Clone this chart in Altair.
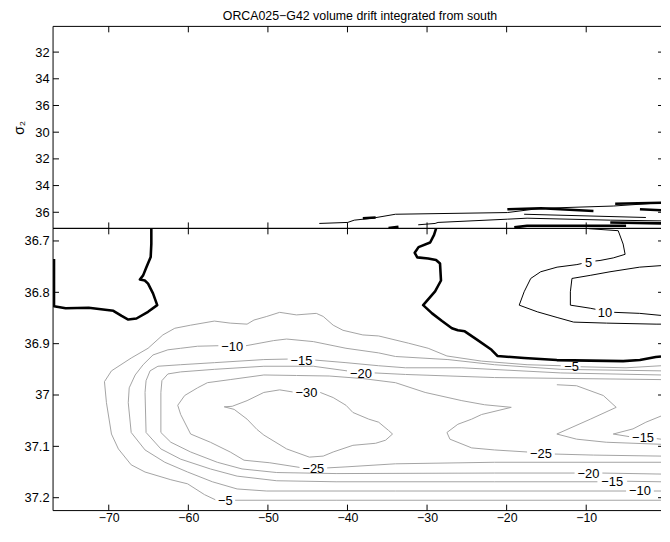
import json
import altair as alt
import pandas as pd

TITLE = "ORCA025\u2212G42 volume drift integrated from south"
FONT = "Liberation Sans"

# the picture is cropped a little before lon = 0
X_DOMAIN = [-77.0, -0.6]
X_TICKS = [-70, -60, -50, -40, -30, -20, -10]

TOP_Y_DOMAIN = [0.037, 7.604]
TOP_Y_TICKS = [1, 2, 3, 4, 5, 6, 7]
TOP_Y_LABELS = ["32", "34", "36", "30", "32", "34", "36"]

BOT_Y_DOMAIN = [36.6755, 37.2251]
BOT_Y_TICKS = [36.7, 36.8, 36.9, 37.0, 37.1, 37.2]

# ---------------- bottom panel contours (lon, sigma2) ----------------
ZERO_A_LON = [-76.88, -76.88, -75.42, -72.52, -69.42, -68.38, -67.55, -66.52, -65.06, -63.91,
              -64.44, -65.06, -65.47, -66.09, -65.68, -65.27, -64.73, -64.65, -64.65]
ZERO_A_SIG = [36.735, 36.827, 36.831, 36.830, 36.836, 36.846, 36.853, 36.851, 36.838, 36.825,
              36.802, 36.783, 36.777, 36.775, 36.767, 36.751, 36.731, 36.706, 36.676]

ZERO_B_LON = [-28.87, -29.12, -29.61, -31.07, -31.55, -31.23, -29.86, -28.87, -28.37, -28.25,
              -28.99, -30.49, -29.37, -28.12, -26.88, -26.13, -25.26, -23.64, -21.90, -21.16,
              -17.80, -13.69, -5.36, -3.25, -1.26, -0.6]
ZERO_B_SIG = [36.676, 36.688, 36.703, 36.712, 36.723, 36.732, 36.734, 36.737, 36.744, 36.777,
              36.798, 36.825, 36.841, 36.856, 36.870, 36.874, 36.876, 36.893, 36.912, 36.924,
              36.928, 36.932, 36.934, 36.932, 36.926, 36.925]

POS5_A_LON = [-9.71, -5.98, -5.36, -5.11, -6.60, -8.26, -8.84]
POS5_A_SIG = [36.676, 36.680, 36.706, 36.726, 36.733, 36.738, 36.739]
POS5_B_LON = [-10.58, -11.17, -13.66, -15.72, -16.97, -17.80, -18.42, -16.14, -13.66, -11.58,
              -7.44, -1.22, -0.6]
POS5_B_SIG = [36.744, 36.746, 36.751, 36.760, 36.773, 36.799, 36.825, 36.838, 36.849, 36.858,
              36.860, 36.862, 36.862]

POS10_A_LON = [-0.6, -3.28, -7.01, -9.50, -11.79, -11.99, -11.99, -9.50, -8.84]
POS10_A_SIG = [36.748, 36.751, 36.760, 36.767, 36.773, 36.799, 36.825, 36.831, 36.833]
POS10_B_LON = [-6.48, -3.28, -0.6]
POS10_B_SIG = [36.839, 36.841, 36.845]

NEG5_A_LON = [-0.6, -4.99, -10.71]
NEG5_A_SIG = [36.943, 36.947, 36.945]
NEG5_B_LON = [-13.20, -17.43, -23.15, -27.50, -29.86, -32.35, -36.08, -38.07, -40.56, -41.80,
              -43.05, -43.92, -46.41, -48.52, -50.14, -51.75, -52.62, -54.74, -56.73, -59.71,
              -61.70, -63.20, -65.06, -67.18, -69.66, -70.54, -70.29, -69.66, -68.79, -67.18,
              -65.44, -62.20, -60.09, -57.97, -56.61]
NEG5_B_SIG = [36.943, 36.941, 36.934, 36.924, 36.909, 36.899, 36.885, 36.883, 36.874, 36.864,
              36.847, 36.841, 36.844, 36.839, 36.847, 36.854, 36.862, 36.860, 36.856, 36.864,
              36.870, 36.883, 36.909, 36.928, 36.953, 36.974, 37.015, 37.076, 37.105, 37.136,
              37.150, 37.165, 37.173, 37.194, 37.204]
NEG5_C_LON = [-54.11, -41.43, -0.6]
NEG5_C_SIG = [37.205, 37.205, 37.205]

NEG10_A_LON = [-0.6, -13.20, -21.53, -27.38, -33.97, -36.08, -40.19, -44.29, -47.65, -49.27, -52.75]
NEG10_A_SIG = [36.953, 36.950, 36.941, 36.931, 36.925, 36.918, 36.909, 36.896, 36.891, 36.894, 36.904]
NEG10_B_LON = [-56.23, -58.84, -60.96, -62.57, -64.44, -65.68, -66.68, -67.43, -67.55, -67.18,
               -65.44, -62.95, -60.09, -56.98, -53.87, -50.14, -33.97, -4.99]
NEG10_B_SIG = [36.904, 36.905, 36.909, 36.912, 36.922, 36.941, 36.961, 36.986, 37.015, 37.073,
               37.107, 37.131, 37.150, 37.169, 37.183, 37.187, 37.187, 37.187]
NEG10_C_LON = [-1.50, -0.6]
NEG10_C_SIG = [37.187, 37.187]

NEG15_A_LON = [-0.6, -13.20, -25.63, -32.72, -36.08, -40.19, -44.04]
NEG15_A_SIG = [36.961, 36.957, 36.947, 36.947, 36.943, 36.937, 36.932]
NEG15_B_LON = [-47.52, -50.51, -56.73, -60.96, -63.82, -64.81, -65.31, -65.44, -65.31, -63.45,
               -60.96, -57.23, -53.87, -48.89, -41.43, -21.53, -8.59]
NEG15_B_SIG = [36.930, 36.931, 36.937, 36.941, 36.944, 36.953, 36.972, 36.995, 37.073, 37.105,
               37.125, 37.144, 37.158, 37.167, 37.169, 37.169, 37.169]
NEG15_C_LON = [-4.86, -0.6]
NEG15_C_SIG = [37.168, 37.169]

NEG15_T_A_LON = [-0.6, -2.50, -4.12, -6.60, -4.61]
NEG15_T_A_SIG = [37.041, 37.053, 37.066, 37.076, 37.081]
NEG15_T_B_LON = [-1.13, -0.6]
NEG15_T_B_SIG = [37.085, 37.086]

NEG20_A_LON = [-0.6, -21.53, -32.72, -36.58]
NEG20_A_SIG = [36.970, 36.966, 36.960, 36.957]
NEG20_B_LON = [-40.06, -44.29, -50.51, -56.73, -60.96, -62.57, -63.32, -63.45, -63.45, -62.20,
               -59.71, -56.36, -53.25, -48.89, -41.43, -21.53, -11.46]
NEG20_B_SIG = [36.953, 36.944, 36.944, 36.950, 36.955, 36.959, 36.972, 36.995, 37.073, 37.092,
               37.111, 37.131, 37.144, 37.151, 37.153, 37.152, 37.152]
NEG20_C_LON = [-7.97, -0.6]
NEG20_C_SIG = [37.152, 37.154]

NEG20_T_LON = [-13.69, -11.21, -7.85, -6.23, -9.47, -13.69, -11.21, -7.48, -0.6]
NEG20_T_SIG = [36.980, 36.982, 37.001, 37.024, 37.047, 37.076, 37.086, 37.092, 37.096]

NEG25_A_LON = [-0.6, -9.09, -13.94]
NEG25_A_SIG = [37.119, 37.117, 37.115]
NEG25_B_LON = [-17.43, -21.53, -24.39, -27.13, -27.50, -26.13, -24.39, -23.15, -19.42, -22.77,
               -25.63, -30.24, -33.97, -38.07, -42.30, -46.41, -50.51, -54.74, -57.60, -58.84,
               -60.46, -61.33, -60.96, -59.71, -57.23, -54.74, -53.00, -49.76, -46.03]
NEG25_B_SIG = [37.111, 37.107, 37.103, 37.086, 37.073, 37.057, 37.047, 37.038, 37.024, 37.019,
               37.011, 36.995, 36.976, 36.968, 36.963, 36.962, 36.961, 36.970, 36.976, 36.986,
               37.001, 37.020, 37.038, 37.076, 37.092, 37.111, 37.127, 37.132, 37.141]
NEG25_C_LON = [-42.55, -40.19, -33.97, -21.53, -0.6]
NEG25_C_SIG = [37.142, 37.140, 37.134, 37.131, 37.131]

NEG30_LON = [-43.42, -41.80, -40.19, -39.32, -37.33, -36.08, -34.84, -34.34, -35.21, -36.46,
             -39.32, -41.80, -43.05, -44.79, -47.65, -50.51, -51.38, -52.62, -54.24, -55.49,
             -54.49, -52.62, -50.51, -48.52, -46.90]
NEG30_SIG = [36.995, 37.005, 37.020, 37.034, 37.047, 37.053, 37.069, 37.076, 37.088, 37.094,
             37.098, 37.111, 37.119, 37.121, 37.105, 37.078, 37.067, 37.047, 37.028, 37.023,
             37.022, 37.011, 36.995, 36.990, 36.994]

LABEL_TEXT = ["5", "10", "\u22125", "\u221210", "\u221215", "\u221220", "\u221230", "\u221225",
              "\u221225", "\u221215", "\u221220", "\u221215", "\u221210", "\u22125"]
LABEL_LON = [-9.71, -7.64, -11.83, -54.49, -45.78, -38.31, -45.16, -44.29,
             -15.68, -2.86, -9.71, -6.73, -3.25, -55.36]
LABEL_SIG = [36.741, 36.838, 36.944, 36.905, 36.932, 36.957, 36.995, 37.142,
             37.113, 37.082, 37.152, 37.167, 37.186, 37.205]

# ---------------- top panel contours (lon, stretched sigma2 index) ----------------
TOP_T1_LON = [-43.54, -39.98, -39.15, -36.87, -33.97, -19.91, -15.72, -6.60, -0.6]
TOP_T1_Y = [7.419, 7.381, 7.296, 7.222, 7.074, 7.011, 6.852, 6.767, 6.645]
TOP_T2_LON = [-31.11, -28.99, -28.62, -19.91, -17.43, -6.98, -0.6]
TOP_T2_Y = [7.470, 7.419, 7.381, 7.259, 7.222, 7.296, 7.322]
TOP_T3_LON = [-17.80, -2.50]
TOP_T3_Y = [7.074, 7.196]
TOP_K1_LON = [-19.91, -15.68, -9.09]
TOP_K1_Y = [6.889, 6.852, 6.952]
TOP_K2_LON = [-6.36, -0.6]
TOP_K2_Y = [6.678, 6.645]
TOP_K3_LON = [-3.25, -0.6]
TOP_K3_Y = [6.889, 6.922]
TOP_K4_LON = [-6.98, -0.6]
TOP_K4_Y = [7.381, 7.415]
TOP_K5_LON = [-19.04, -17.43, -4.99]
TOP_K5_Y = [7.567, 7.507, 7.507]
TOP_K6_LON = [-34.84, -33.59]
TOP_K6_Y = [7.593, 7.544]
TOP_K7_LON = [-38.07, -36.46]
TOP_K7_Y = [7.222, 7.196]

BOT_SEGMENTS = [
    ("zA", "zero", ZERO_A_LON, ZERO_A_SIG), ("zB", "zero", ZERO_B_LON, ZERO_B_SIG),
    ("p5a", "pos", POS5_A_LON, POS5_A_SIG), ("p5b", "pos", POS5_B_LON, POS5_B_SIG),
    ("p10a", "pos", POS10_A_LON, POS10_A_SIG), ("p10b", "pos", POS10_B_LON, POS10_B_SIG),
    ("n5a", "neg", NEG5_A_LON, NEG5_A_SIG), ("n5b", "neg", NEG5_B_LON, NEG5_B_SIG),
    ("n5c", "neg", NEG5_C_LON, NEG5_C_SIG),
    ("n10a", "neg", NEG10_A_LON, NEG10_A_SIG), ("n10b", "neg", NEG10_B_LON, NEG10_B_SIG),
    ("n10c", "neg", NEG10_C_LON, NEG10_C_SIG),
    ("n15a", "neg", NEG15_A_LON, NEG15_A_SIG), ("n15b", "neg", NEG15_B_LON, NEG15_B_SIG),
    ("n15c", "neg", NEG15_C_LON, NEG15_C_SIG),
    ("n15ta", "neg", NEG15_T_A_LON, NEG15_T_A_SIG), ("n15tb", "neg", NEG15_T_B_LON, NEG15_T_B_SIG),
    ("n20a", "neg", NEG20_A_LON, NEG20_A_SIG), ("n20b", "neg", NEG20_B_LON, NEG20_B_SIG),
    ("n20c", "neg", NEG20_C_LON, NEG20_C_SIG), ("n20t", "neg", NEG20_T_LON, NEG20_T_SIG),
    ("n25a", "neg", NEG25_A_LON, NEG25_A_SIG), ("n25b", "neg", NEG25_B_LON, NEG25_B_SIG),
    ("n25c", "neg", NEG25_C_LON, NEG25_C_SIG),
    ("n30", "neg", NEG30_LON, NEG30_SIG),
]
TOP_SEGMENTS = [
    ("t1", "pos", TOP_T1_LON, TOP_T1_Y), ("t2", "pos", TOP_T2_LON, TOP_T2_Y),
    ("t3", "pos", TOP_T3_LON, TOP_T3_Y),
    ("k1", "zero", TOP_K1_LON, TOP_K1_Y), ("k2", "zero", TOP_K2_LON, TOP_K2_Y),
    ("k3", "zero", TOP_K3_LON, TOP_K3_Y), ("k4", "zero", TOP_K4_LON, TOP_K4_Y),
    ("k5", "zero", TOP_K5_LON, TOP_K5_Y), ("k6", "zero", TOP_K6_LON, TOP_K6_Y),
    ("k7", "zero", TOP_K7_LON, TOP_K7_Y),
]

STYLE_COLOR = {"zero": "black", "pos": "black", "neg": "#a3a3a3"}
STYLE_WIDTH = {"zero": 2.6, "pos": 1.0, "neg": 1.0}

W = 614
H_TOP = 204
H_BOT = 285
TICK = 6


def seg_frame(segments):
    rows = []
    for name, style, lons, ys in segments:
        for k, (a, b) in enumerate(zip(lons, ys)):
            rows.append({"seg": name, "style": style, "k": k, "lon": a, "y": b})
    return pd.DataFrame(rows)


x_scale = alt.Scale(domain=X_DOMAIN, nice=False, zero=False)
X_TOP = alt.X("lon:Q", scale=x_scale, axis=None)
X_BOT = alt.X("lon:Q", scale=x_scale,
              axis=alt.Axis(values=X_TICKS, ticks=False, domain=False, grid=False,
                            labelPadding=1, labelFontSize=12.5, title=None, labelFlush=False))

Y_TOP = alt.Y("y:Q",
              scale=alt.Scale(domain=TOP_Y_DOMAIN, reverse=True, nice=False, zero=False),
              axis=alt.Axis(values=TOP_Y_TICKS, ticks=False, domain=False, grid=False,
                            labelExpr=json.dumps(TOP_Y_LABELS) + "[round(datum.value) - 1]",
                            labelPadding=4, minExtent=30, maxExtent=30,
                            title="\u03c3\u2082", titlePadding=0, titleBaseline="alphabetic",
                            titleFontSize=14))
Y_BOT = alt.Y("y:Q",
              scale=alt.Scale(domain=BOT_Y_DOMAIN, reverse=True, nice=False, zero=False),
              axis=alt.Axis(values=BOT_Y_TICKS, ticks=False, domain=False, grid=False,
                            format="~g", labelPadding=4, minExtent=30, maxExtent=30,
                            title=None))

ONE = pd.DataFrame({"a": [0]})


def panel(segments, y_enc, y_ticks, height, x_enc, labels=None):
    df = seg_frame(segments)
    layers = []
    for style in ["neg", "pos", "zero"]:
        sub = df[df["style"] == style]
        if len(sub):
            layers.append(
                alt.Chart(sub).mark_line(color=STYLE_COLOR[style], strokeWidth=STYLE_WIDTH[style],
                                         clip=True, strokeJoin="round")
                .encode(x=x_enc, y=y_enc, detail="seg:N", order="k:Q"))
    if labels is not None:
        layers.append(
            alt.Chart(labels).mark_text(font=FONT, fontSize=13, color="black",
                                        align="center", baseline="middle", dy=1, clip=True)
            .encode(x=x_enc, y=y_enc, text="txt:N"))
    xt = pd.DataFrame({"lon": X_TICKS})
    yt = pd.DataFrame({"y": y_ticks})
    rule = dict(color="black", strokeWidth=1)
    # frame (left, top, bottom); the right edge of the figure lies beyond the picture
    layers.append(alt.Chart(ONE).mark_rule(**rule).encode(x=alt.value(0), y=alt.value(0), y2=alt.value(height)))
    layers.append(alt.Chart(ONE).mark_rule(**rule).encode(y=alt.value(0), x=alt.value(0), x2=alt.value(W)))
    layers.append(alt.Chart(ONE).mark_rule(**rule).encode(y=alt.value(height), x=alt.value(0), x2=alt.value(W)))
    # inward ticks
    layers.append(alt.Chart(xt).mark_rule(**rule).encode(x=x_enc, y=alt.value(0), y2=alt.value(TICK)))
    layers.append(alt.Chart(xt).mark_rule(**rule).encode(x=x_enc, y=alt.value(height - TICK), y2=alt.value(height)))
    layers.append(alt.Chart(yt).mark_rule(**rule).encode(y=y_enc, x=alt.value(0), x2=alt.value(TICK)))
    layers.append(alt.Chart(yt).mark_rule(**rule).encode(y=y_enc, x=alt.value(W - 3), x2=alt.value(W)))
    return alt.layer(*layers).properties(width=W, height=height)


label_df = pd.DataFrame({"txt": LABEL_TEXT, "lon": LABEL_LON, "y": LABEL_SIG})

top = panel(TOP_SEGMENTS, Y_TOP, TOP_Y_TICKS, H_TOP, X_TOP).properties(
    title=alt.Title(TITLE, font=FONT, fontSize=12.5, fontWeight="normal", color="black",
                    anchor="middle", frame="group", offset=3, dx=3))
bottom = panel(BOT_SEGMENTS, Y_BOT, BOT_Y_TICKS, H_BOT, X_BOT, labels=label_df)

chart = (
    alt.vconcat(top, bottom, spacing=0, bounds="flush")
    .properties(
        padding={"left": 4.5, "top": 0, "right": 0, "bottom": 0},
        background="white",
    )
    .configure_view(stroke=None)
    .configure_axis(labelFont=FONT, labelFontSize=13, labelColor="black",
                    titleFont=FONT, titleFontSize=13, titleColor="black", titleFontWeight="normal")
)

chart.save("out.html", embed_options={"renderer": "svg", "actions": False})
